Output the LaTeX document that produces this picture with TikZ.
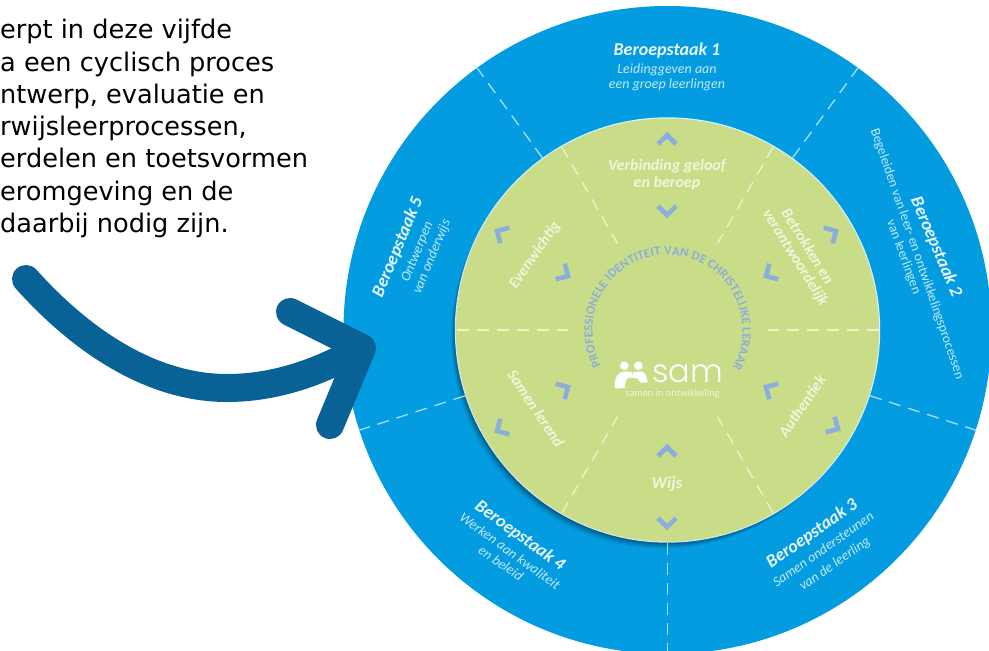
\documentclass[tikz,border=0pt]{standalone}
\usepackage{fontspec}
\setmainfont{DejaVu Sans}
\newfontfamily\labf{Carlito}
\newfontfamily\samf{Poppins Light}
\usetikzlibrary{decorations.text}
\definecolor{ringblue}{HTML}{039CE0}
\definecolor{diskgreen}{HTML}{C9DC88}
\definecolor{chevblue}{HTML}{8CAEDC}
\definecolor{arrowblue}{HTML}{096296}
\definecolor{ringdash}{HTML}{A6DFF6}
\definecolor{diskdash}{HTML}{EEF3CC}
\definecolor{headtxt}{HTML}{E8F6FC}
\definecolor{subtxt}{HTML}{C2E9F9}
\definecolor{greentxt}{HTML}{F1F5DC}
\tikzset{
  bodytext/.style={anchor=base west,inner sep=0pt,text=black,font=\fontsize{25.6}{28}\selectfont},
  ringhead/.style={inner sep=0pt,text=headtxt,font=\labf\bfseries\itshape\fontsize{18}{20}\selectfont},
  ringsub/.style={inner sep=0pt,text=subtxt,font=\labf\itshape\fontsize{14}{16}\selectfont},
  disklabel/.style={inner sep=0pt,text=greentxt,font=\labf\bfseries\itshape\fontsize{15.6}{20}\selectfont},
  ringsep/.style={draw=ringdash,line width=1.3pt,dash pattern=on 12pt off 8pt},
  disksep/.style={draw=diskdash,line width=1.3pt,dash pattern=on 12pt off 8pt},
  chevron/.style={draw=chevblue,line width=4.6pt,miter limit=10},
  bigarrow/.style={draw=arrowblue,line width=28pt,line cap=round,line join=round}
}
\newcommand{\chevat}[3]{\draw[chevron,shift={(#1,#2)},rotate=#3] (-9pt,9pt) -- (0pt,0pt) -- (-9pt,-9pt);}
\begin{document}
\begin{tikzpicture}[x=1pt,y=-1pt]
\useasboundingbox (0,0) rectangle (989,651);
\clip (0,0) rectangle (989,651);
\fill[white] (0,0) rectangle (989,651);
\coordinate (c) at (667.5,330);
% rings
\fill[ringblue] (c) circle (324pt);
\foreach \s/\o in {7/.07,5.5/.09,4/.11,2.5/.13,1.5/.15}{
  \fill[black,opacity=\o] (667.5-\s*.7,330+\s) circle (211.5pt);
}
\fill[white,opacity=.85] (c) circle (212.7pt);
\fill[diskgreen] (c) circle (211.5pt);
% separators
\foreach \a in {126,54,-18,-90,198}{
  \draw[ringsep] (c) ++(\a:213pt) -- ++(\a:111pt);
}
\foreach \a in {120,60,0,180,240,300}{
  \draw[disksep] (c) ++(\a:211pt) -- ++(\a+180:111pt);
}
% chevrons
\chevat{667}{135}{90}
\chevat{667}{215}{-90}
\chevat{667}{447}{90}
\chevat{667}{527}{-90}
\chevat{497}{231}{150}
\chevat{568}{276}{-30}
\chevat{836}{231}{30}
\chevat{766}{276}{210}
\chevat{568}{387}{30}
\chevat{497}{431}{210}
\chevat{766}{387}{150}
\chevat{838}{429}{-30}
% body text
\node[bodytext] (t1) at (0,38.5) {erpt in deze vijfde};
\node[bodytext] (t2) at (0,71) {a een cyclisch proces};
\node[bodytext] (t3) at (0,103) {ntwerp, evaluatie en};
\node[bodytext] (t4) at (0,135.5) {rwijsleerprocessen,};
\node[bodytext] (t5) at (0,167.5) {erdelen en toetsvormen};
\node[bodytext] (t6) at (0,200) {eromgeving en de};
\node[bodytext] (t7) at (0,232) {daarbij nodig zijn.};
% ring labels
\node[ringhead] (b1) at (667,51) {Beroepstaak 1};
\node[ringsub] (b1a) at (667,70) {Leidinggeven aan};
\node[ringsub] (b1b) at (667,85) {een groep leerlingen};
\node[ringhead,rotate=-67] (b2) at (936,247) {Beroepstaak 2};
\node[ringsub,rotate=-71,font=\labf\fontsize{13.6}{16}\selectfont] (b2a) at (917,254) {Begeleiden van leer- en ontwikkelingsprocessen};
\node[ringsub,rotate=-70,font=\labf\fontsize{13.6}{16}\selectfont] (b2b) at (903.5,257) {van leerlingen};
\node[ringhead,rotate=35] (b3) at (812,534) {Beroepstaak 3};
\node[ringsub,rotate=35] (b3a) at (823,549) {Samen ondersteunen};
\node[ringsub,rotate=35] (b3b) at (835,564) {van de leerling};
\node[ringhead,rotate=-36] (b4) at (520,536) {Beroepstaak 4};
\node[ringsub,rotate=-36] (b4a) at (510,551) {Werken aan kwaliteit};
\node[ringsub,rotate=-35] (b4b) at (501,563) {en beleid};
\node[ringhead,rotate=67.5] (b5) at (398,247) {Beroepstaak 5};
\node[ringsub,rotate=67.5] (b5a) at (417.5,252) {Ontwerpen};
\node[ringsub,rotate=67.5] (b5b) at (432,257) {van onderwijs};
% disk labels
\node[disklabel,font=\labf\bfseries\itshape\fontsize{16}{20}\selectfont] (d1) at (667,166) {Verbinding geloof};
\node[disklabel,font=\labf\bfseries\itshape\fontsize{16}{20}\selectfont] (d1b) at (667,183) {en beroep};
\node[disklabel,font=\labf\bfseries\itshape\fontsize{17}{20}\selectfont] (d2) at (667,484) {Wijs};
\node[disklabel,rotate=55] (d3) at (535,255) {Evenwichtig};
\node[disklabel,rotate=-58] (d4) at (808,246) {Betrokken en};
\node[disklabel,rotate=-58] (d4b) at (795,258) {verantwoordelijk};
\node[disklabel,rotate=-56] (d5) at (536,408.5) {Samen lerend};
\node[disklabel,rotate=56] (d6) at (802,406) {Authentiek};
% curved text
\path[decorate,decoration={text along path,text align={fit to path},text color=chevblue,
  text={|\labf\bfseries\fontsize{12.6}{15}\selectfont|PROFESSIONELE IDENTITEIT VAN DE CHRISTELIJKE LERAAR}}]
  (c) ++(208:75pt) arc[start angle=208,end angle=-30,radius=75pt];
% logo
\fill[white] (624.3,365.7) circle (4.3pt) (638.3,365.7) circle (4.3pt);
\fill[white] (614.5,387) .. controls (614.5,378) and (618,371.5) .. (624,371.5)
  -- (632,372) -- (632,378) .. controls (628,376.5) and (625,378) .. (625,388) -- (616,388.5) -- cycle;
\fill[white] (631,378) -- (633.5,372) -- (642,371.5) .. controls (645,372) and (647.5,377) .. (647.5,382.5)
  -- (640,382.5) .. controls (640,379) and (635,377) .. cycle;
\node[inner sep=0pt,anchor=base west,text=white,font=\samf\fontsize{32}{36}\selectfont] (sam) at (652,382) {sam};
\node[inner sep=0pt,anchor=base,text=white,opacity=.7,font=\labf\fontsize{10.4}{13}\selectfont] (samsub) at (672.5,396.5) {samen in ontwikkeling};
% arrow
\draw[bigarrow] (26,279) .. controls (85,345) and (155,388) .. (227,388) .. controls (275,388) and (320,372) .. (358,350);
\draw[bigarrow] (290,312) -- (362,348) -- (330,425);
\end{tikzpicture}
\end{document}
